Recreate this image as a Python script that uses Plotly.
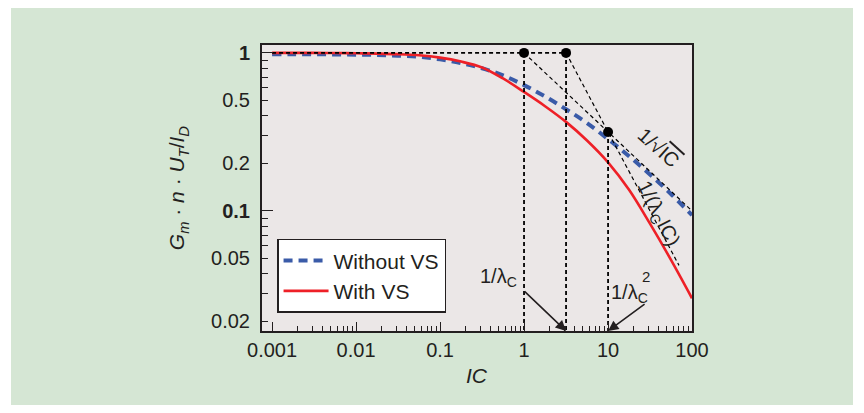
import math
import plotly.graph_objects as go

# Normalised transconductance efficiency versus inversion coefficient
ic = [0.001, 0.00178, 0.00316, 0.00562, 0.01, 0.0178, 0.0316, 0.0562, 0.1, 0.178,
      0.316, 0.562, 1, 1.78, 3.16, 5.62, 10, 17.8, 31.6, 56.2, 100]
without_vs = [0.98, 0.98, 0.98, 0.978, 0.975, 0.97, 0.96, 0.945, 0.91, 0.86,
              0.80, 0.72, 0.625, 0.53, 0.44, 0.36, 0.285, 0.222, 0.17, 0.128, 0.094]
with_vs = [1.0, 1.0, 1.0, 0.998, 0.995, 0.99, 0.982, 0.966, 0.933, 0.881,
           0.809, 0.689, 0.566, 0.46, 0.366, 0.279, 0.203, 0.136, 0.083, 0.049, 0.028]

# Velocity-saturation parameter and asymptote end points
lambda_c = 0.316
ic_min, ic_max = 0.001, 100
ic_lambda_end = 70

# Axis settings
x_range = [-3.12, 2.0]
y_range = [-1.76, 0.05]
y_bottom = 10 ** y_range[0]
x_tickvals = [0.001, 0.01, 0.1, 1, 10, 100]
x_ticktext = ["0.001", "0.01", "0.1", "1", "10", "100"]
y_tickvals = [0.02, 0.05, 0.1, 0.2, 0.5, 1]
y_ticktext = ["0.02", "0.05", "<b>0.1</b>", "0.2", "0.5", "<b>1</b>"]

FONT = "Liberation Sans, Arial, Helvetica, sans-serif"
INK = "#231f20"
BLUE = "#3a5ba8"
RED = "#ee2027"
GREEN_BG = "#d5e6d4"
PLOT_BG = "#ebe7e7"

ic_a = 1 / lambda_c          # 1/lambda_c
ic_b = 1 / lambda_c ** 2     # 1/lambda_c^2

fig = go.Figure()

fig.add_trace(go.Scatter(x=ic, y=without_vs, mode="lines", name="Without VS",
                         line=dict(color=BLUE, width=4, dash="9px,6px", shape="spline", smoothing=1.0)))
fig.add_trace(go.Scatter(x=ic, y=with_vs, mode="lines", name="With VS",
                         line=dict(color=RED, width=2.6, shape="spline", smoothing=1.0)))

thin = dict(color="black", width=1.2, dash="4px,3px")
thick = dict(color="black", width=1.8, dash="4px,3px")

# Weak-inversion asymptote (=1)
fig.add_trace(go.Scatter(x=[ic_min, ic_a], y=[1, 1], mode="lines", line=thick,
                         showlegend=False, hoverinfo="skip"))
# Vertical markers at IC = 1, 1/lambda_c, 1/lambda_c^2
for xv, yv in [(1, 1), (ic_a, 1), (ic_b, 1 / math.sqrt(ic_b))]:
    fig.add_trace(go.Scatter(x=[xv, xv], y=[yv, y_bottom], mode="lines", line=thick,
                             showlegend=False, hoverinfo="skip"))
# Strong-inversion asymptote 1/sqrt(IC)
fig.add_trace(go.Scatter(x=[1, ic_max], y=[1, 1 / math.sqrt(ic_max)], mode="lines", line=thin,
                         showlegend=False, hoverinfo="skip"))
# Velocity-saturation asymptote 1/(lambda_c IC)
fig.add_trace(go.Scatter(x=[ic_a, ic_lambda_end], y=[1, 1 / (lambda_c * ic_lambda_end)],
                         mode="lines", line=thin, showlegend=False, hoverinfo="skip"))
# Corner points
fig.add_trace(go.Scatter(x=[1, ic_a, ic_b], y=[1, 1, 1 / math.sqrt(ic_b)], mode="markers",
                         marker=dict(color="black", size=10), showlegend=False,
                         hoverinfo="skip", yaxis="y2"))

minor_x = [m * 10 ** e for e in range(-3, 2) for m in range(2, 10)]
minor_y = [m * 10 ** e for e in range(-2, 0) for m in range(2, 10)]

fig.update_layout(
    width=864, height=413,
    margin=dict(l=262, r=172, t=45, b=82),
    paper_bgcolor="white",
    plot_bgcolor="rgba(0,0,0,0)",
    font=dict(family=FONT, size=20, color=INK),
    showlegend=True,
    legend=dict(x=0.035, y=0.322, xanchor="left", yanchor="top",
                bgcolor="white", bordercolor=INK, borderwidth=1.5,
                font=dict(size=21), itemwidth=45, tracegroupgap=0),
    xaxis=dict(type="log", range=x_range, tickmode="array", tickvals=x_tickvals,
               ticktext=x_ticktext, ticks="inside", ticklen=9, tickwidth=1.3,
               tickcolor=INK, showgrid=False, zeroline=False,
               showline=True, linecolor=INK, linewidth=2, mirror=True,
               minor=dict(tickmode="array", tickvals=minor_x, ticks="inside",
                          ticklen=5, tickwidth=1.2, tickcolor=INK, showgrid=False),
               tickfont=dict(size=20)),
    yaxis=dict(type="log", range=y_range, tickmode="array", tickvals=y_tickvals,
               ticktext=y_ticktext, ticks="inside", ticklen=6, tickwidth=1.3,
               tickcolor=INK, showgrid=False, zeroline=False,
               showline=True, linecolor=INK, linewidth=2, mirror=True,
               ticklabelstandoff=6,
               minor=dict(tickmode="array", tickvals=minor_y, ticks="inside",
                          ticklen=6, tickwidth=1.2, tickcolor=INK, showgrid=False),
               tickfont=dict(size=20)),
    yaxis2=dict(type="log", range=y_range, overlaying="y", side="left",
                tickmode="array", tickvals=[0.1, 1], ticks="inside", ticklen=11,
                tickwidth=1.3, tickcolor=INK, showticklabels=False,
                showgrid=False, zeroline=False, showline=False),
)

# Framed background and plot area
fig.add_shape(type="rect", xref="paper", yref="paper",
              x0=(11 - 262) / 430, x1=(853 - 262) / 430,
              y0=(331 - 405) / 286, y1=(331 - 8) / 286,
              fillcolor=GREEN_BG, line=dict(width=0), layer="below")
fig.add_shape(type="rect", xref="paper", yref="paper", x0=0, x1=1, y0=0, y1=1,
              fillcolor=PLOT_BG, line=dict(width=0), layer="below")

ann = []
# Axis titles
ann.append(dict(text="<i>IC</i>", xref="paper", yref="paper", x=0.5, y=-0.154,
                showarrow=False, font=dict(size=21), xanchor="center", yanchor="middle"))
ann.append(dict(text="<i>G<sub>m</sub></i> · <i>n</i> · <i>U<sub>T</sub></i>/<i>I<sub>D</sub></i>",
                xref="paper", yref="paper", x=-0.195, y=0.5, textangle=-90,
                showarrow=False, font=dict(size=21), xanchor="center", yanchor="middle"))
# Asymptote labels
ann.append(dict(text="1/√<span style='text-decoration:overline'>IC</span>",
                xref="x", yref="y", x=1.61, y=-0.60, textangle=42,
                showarrow=False, font=dict(size=20)))
ann.append(dict(text="1/(λ<sub>C</sub>IC)", xref="x", yref="y", x=1.60, y=-1.02,
                textangle=63, showarrow=False, font=dict(size=20)))
ann.append(dict(text="1/λ<sub>C</sub>", xref="x", yref="y", x=-0.31, y=-1.42,
                showarrow=False, font=dict(size=20)))
ann.append(dict(text="1/λ<sub>C</sub>", xref="x", yref="y", x=1.25, y=-1.52,
                showarrow=False, font=dict(size=20)))
ann.append(dict(text="2", xref="x", yref="y", x=1.455, y=-1.415,
                showarrow=False, font=dict(size=15)))
# Arrows to the corner frequencies on the IC axis
for xv, axp, ayp in [(ic_a, -43, -41), (ic_b, 38, -28)]:
    ann.append(dict(text="", xref="x", yref="paper", x=math.log10(xv), y=0,
                    showarrow=True, arrowhead=2, arrowsize=1.3, arrowwidth=1.6,
                    arrowcolor=INK, ax=axp, ay=ayp, standoff=0))
fig.update_layout(annotations=ann)

fig.write_html("out.html")
